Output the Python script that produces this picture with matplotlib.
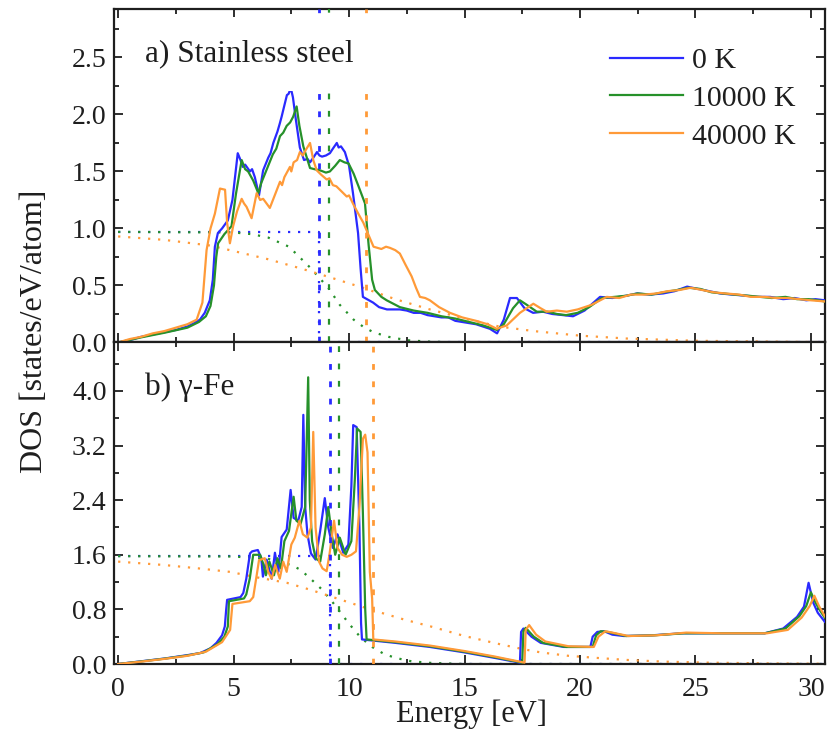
import matplotlib
matplotlib.use('Agg')
import matplotlib.pyplot as plt
import numpy as np
from matplotlib.ticker import MultipleLocator, FormatStrFormatter

plt.rcParams['font.family'] = ['Liberation Serif', 'DejaVu Serif']

BLUE = '#2a2aff'
GREEN = '#26912a'
ORANGE = '#ff9a38'
TEXT = '#1e1e1e'

LABELS = ['0 K', '10000 K', '40000 K']

# ---------------------------------------------------------------------
# a) stainless steel, DOS (E [eV], states/eV/atom)
SS_0K = [(0.0, 0.0), (0.5, 0.02), (1.0, 0.05), (1.5, 0.07), (2.0, 0.09), (2.5, 0.11), (3.0, 0.14),
         (3.3, 0.17), (3.54, 0.20), (3.75, 0.26), (3.97, 0.37), (4.1, 0.55), (4.19, 0.84), (4.32, 0.96),
         (4.5, 1.0), (4.75, 1.07), (4.95, 1.25), (5.18, 1.66), (5.3, 1.6), (5.4, 1.54), (5.5, 1.56),
         (5.71, 1.50), (5.8, 1.52), (5.92, 1.45), (6.1, 1.29), (6.28, 1.51), (6.5, 1.62), (6.6, 1.66),
         (6.72, 1.75), (6.9, 1.85), (7.0, 1.92), (7.08, 1.98), (7.2, 2.08), (7.31, 2.17), (7.38, 2.18),
         (7.48, 2.23), (7.57, 2.15), (7.7, 1.95), (7.87, 1.71), (8.05, 1.60), (8.2, 1.61), (8.31, 1.58),
         (8.45, 1.62), (8.61, 1.67), (8.72, 1.64), (8.83, 1.63), (9.0, 1.64), (9.17, 1.66), (9.3, 1.70),
         (9.47, 1.75), (9.55, 1.71), (9.65, 1.72), (9.82, 1.67), (10.0, 1.55), (10.17, 1.31), (10.39, 0.96),
         (10.5, 0.65), (10.6, 0.40), (11.04, 0.35), (11.3, 0.31), (11.64, 0.29), (12.2, 0.29), (12.5, 0.28),
         (12.8, 0.26), (13.1, 0.26), (13.4, 0.24), (14.0, 0.22), (14.3, 0.22), (14.6, 0.19), (15.2, 0.17),
         (15.5, 0.16), (15.8, 0.14), (16.1, 0.12), (16.41, 0.08), (16.7, 0.20), (16.97, 0.39), (17.27, 0.39),
         (17.6, 0.30), (17.97, 0.26), (18.4, 0.27), (18.8, 0.25), (19.27, 0.24), (19.7, 0.23), (20.2, 0.28),
         (20.87, 0.40), (21.4, 0.39), (22.0, 0.41), (22.47, 0.43), (23.0, 0.42), (23.6, 0.43), (24.1, 0.45),
         (24.64, 0.49), (25.1, 0.47), (25.6, 0.45), (26.07, 0.43), (26.6, 0.42), (27.2, 0.41), (27.7, 0.40),
         (28.24, 0.40), (28.8, 0.38), (29.3, 0.39), (29.8, 0.37), (30.2, 0.38), (30.6, 0.37)]

SS_10kK = [(0.0, 0.0), (1.0, 0.045), (2.0, 0.085), (3.0, 0.13), (3.5, 0.18), (3.8, 0.23), (4.0, 0.32),
           (4.15, 0.5), (4.25, 0.75), (4.33, 0.87), (4.6, 0.95), (4.91, 1.02), (5.1, 1.3), (5.35, 1.6),
           (5.5, 1.52), (5.63, 1.50), (5.85, 1.42), (6.07, 1.31), (6.2, 1.4), (6.36, 1.48), (6.5, 1.55),
           (6.7, 1.65), (6.85, 1.70), (7.01, 1.81), (7.15, 1.84), (7.3, 1.90), (7.45, 1.93), (7.58, 1.98),
           (7.73, 2.07), (7.85, 1.90), (8.02, 1.72), (8.31, 1.53), (8.5, 1.52), (8.74, 1.51), (9.0, 1.49),
           (9.17, 1.50), (9.4, 1.55), (9.6, 1.60), (9.8, 1.58), (9.98, 1.57), (10.2, 1.48), (10.41, 1.37),
           (10.69, 1.22), (10.85, 0.85), (11.0, 0.55), (11.12, 0.46), (11.4, 0.40), (11.63, 0.37), (12.2, 0.31),
           (12.8, 0.28), (13.4, 0.26), (14.0, 0.23), (14.6, 0.21), (15.2, 0.18), (15.8, 0.15), (16.4, 0.11),
           (16.7, 0.16), (17.1, 0.30), (17.4, 0.37), (17.7, 0.33), (18.13, 0.27), (18.6, 0.27), (19.0, 0.25),
           (19.4, 0.24), (19.9, 0.26), (20.4, 0.31), (20.95, 0.39), (21.5, 0.40), (22.0, 0.41), (22.5, 0.43),
           (23.1, 0.42), (23.6, 0.44), (24.2, 0.46), (24.7, 0.48), (25.2, 0.47), (25.7, 0.44), (26.2, 0.43),
           (26.7, 0.42), (27.3, 0.41), (27.8, 0.40), (28.3, 0.39), (28.9, 0.40), (29.4, 0.38), (29.9, 0.38),
           (30.3, 0.37), (30.6, 0.36)]

SS_40kK = [(0.0, 0.0), (0.5, 0.03), (1.0, 0.05), (1.5, 0.08), (2.0, 0.10), (2.5, 0.13), (3.0, 0.16),
           (3.4, 0.20), (3.65, 0.35), (3.83, 0.81), (4.0, 1.0), (4.19, 1.13), (4.41, 1.35), (4.63, 1.34),
           (4.72, 1.05), (4.84, 0.87), (4.98, 1.02), (5.15, 1.15), (5.35, 1.26), (5.45, 1.22), (5.56, 1.19),
           (5.78, 1.09), (6.0, 1.31), (6.15, 1.25), (6.28, 1.26), (6.57, 1.18), (6.8, 1.30), (7.01, 1.41),
           (7.1, 1.38), (7.2, 1.45), (7.44, 1.54), (7.5, 1.50), (7.6, 1.58), (7.75, 1.60), (7.87, 1.67),
           (8.0, 1.64), (8.1, 1.68), (8.31, 1.75), (8.45, 1.60), (8.6, 1.51), (8.8, 1.47), (9.03, 1.43),
           (9.15, 1.44), (9.3, 1.38), (9.45, 1.37), (9.6, 1.34), (9.9, 1.28), (10.0, 1.29), (10.19, 1.21),
           (10.4, 1.13), (10.62, 1.05), (10.85, 0.94), (11.06, 0.84), (11.4, 0.82), (11.6, 0.84), (11.77, 0.83),
           (12.0, 0.81), (12.2, 0.78), (12.45, 0.68), (12.71, 0.58), (12.9, 0.48), (13.07, 0.40), (13.3, 0.39),
           (13.5, 0.37), (13.9, 0.31), (14.37, 0.26), (14.9, 0.22), (15.5, 0.19), (16.0, 0.16), (16.4, 0.12),
           (16.83, 0.15), (17.4, 0.26), (17.98, 0.34), (18.3, 0.30), (18.56, 0.27), (19.0, 0.28), (19.43, 0.27),
           (19.9, 0.29), (20.5, 0.33), (21.16, 0.40), (21.7, 0.39), (22.2, 0.42), (22.8, 0.42), (23.3, 0.43),
           (23.8, 0.45), (24.3, 0.46), (24.8, 0.48), (25.3, 0.46), (25.8, 0.44), (26.3, 0.43), (26.9, 0.42),
           (27.4, 0.40), (28.0, 0.40), (28.5, 0.39), (29.0, 0.39), (29.5, 0.38), (30.0, 0.37), (30.6, 0.36)]

# occupation (dotted) and chemical potential (dashed) for a)
SS_OCC_0K = [(0.0, 0.97), (8.72, 0.97), (8.72, 0.0), (30.6, 0.0)]
SS_OCC_10kK = [(0.0, 0.97), (5.0, 0.965), (5.8, 0.95), (6.5, 0.92), (7.4, 0.84), (8.0, 0.72), (8.3, 0.66),
               (8.7, 0.57), (9.1, 0.48), (9.6, 0.33), (10.2, 0.20), (10.6, 0.14), (11.05, 0.09), (11.7, 0.05),
               (12.5, 0.02), (13.5, 0.007), (15.0, 0.0), (30.6, 0.0)]
SS_OCC_40kK = [(0.0, 0.93), (2.0, 0.90), (4.0, 0.85), (5.25, 0.79), (6.5, 0.73), (7.9, 0.65), (9.2, 0.57),
               (10.6, 0.48), (12.0, 0.38), (13.5, 0.29), (15.0, 0.21), (16.5, 0.14), (18.0, 0.10), (20.0, 0.06),
               (22.0, 0.035), (25.0, 0.015), (30.6, 0.003)]
SS_MU = [8.72, 9.15, 10.73]

# ---------------------------------------------------------------------
# b) gamma-Fe
FE_0K = [(0.0, 0.0), (1.0, 0.04), (2.0, 0.08), (3.0, 0.13), (3.55, 0.16), (4.0, 0.23), (4.26, 0.31),
         (4.5, 0.42), (4.62, 0.55), (4.68, 0.80), (4.72, 0.94), (5.3, 0.98), (5.42, 1.04), (5.55, 1.25),
         (5.71, 1.62), (5.8, 1.65), (6.05, 1.67), (6.2, 1.55), (6.27, 1.28), (6.43, 1.53), (6.65, 1.25),
         (6.79, 1.63), (6.94, 1.35), (7.08, 1.86), (7.3, 1.97), (7.47, 2.55), (7.6, 2.14), (7.8, 2.10),
         (7.95, 2.30), (8.02, 3.65), (8.1, 2.30), (8.2, 1.90), (8.35, 1.62), (8.55, 1.53), (8.75, 1.95),
         (8.95, 2.43), (9.1, 2.0), (9.3, 1.70), (9.5, 1.90), (9.75, 1.63), (9.97, 1.75), (10.1, 2.6),
         (10.18, 3.50), (10.33, 3.47), (10.45, 2.0), (10.52, 0.6), (10.56, 0.36), (12.0, 0.31), (13.5, 0.25),
         (15.0, 0.17), (16.3, 0.09), (17.4, 0.02), (17.45, 0.47), (17.55, 0.52), (17.9, 0.40), (18.3, 0.31),
         (19.3, 0.25), (20.45, 0.25), (20.55, 0.40), (20.75, 0.47), (21.05, 0.48), (21.4, 0.43), (21.9, 0.41),
         (23.1, 0.42), (24.4, 0.45), (25.8, 0.45), (27.0, 0.45), (28.0, 0.45), (28.8, 0.52), (29.4, 0.69),
         (29.7, 0.84), (29.9, 1.19), (30.1, 0.90), (30.3, 0.75), (30.6, 0.62)]

FE_10kK = [(0.0, 0.0), (1.0, 0.038), (2.0, 0.078), (3.0, 0.125), (3.7, 0.17), (4.3, 0.29), (4.6, 0.40),
           (4.75, 0.55), (4.8, 0.92), (5.45, 0.96), (5.55, 1.02), (5.7, 1.25), (5.85, 1.60), (6.15, 1.60),
           (6.3, 1.45), (6.4, 1.30), (6.55, 1.50), (6.75, 1.30), (6.9, 1.55), (7.05, 1.40), (7.2, 1.80),
           (7.4, 1.95), (7.6, 2.45), (7.72, 2.10), (7.9, 2.05), (8.1, 2.30), (8.23, 4.20), (8.3, 2.40),
           (8.4, 1.80), (8.55, 1.55), (8.75, 1.50), (8.95, 1.90), (9.1, 2.30), (9.25, 1.90), (9.4, 1.60),
           (9.6, 1.85), (9.85, 1.60), (10.1, 1.80), (10.25, 2.70), (10.35, 3.45), (10.5, 3.40), (10.6, 2.20),
           (10.7, 0.80), (10.76, 0.36), (12.0, 0.32), (13.5, 0.26), (15.0, 0.18), (16.3, 0.10), (17.5, 0.02),
           (17.55, 0.48), (17.65, 0.53), (18.0, 0.40), (18.4, 0.31), (19.4, 0.25), (20.55, 0.25), (20.7, 0.42),
           (20.9, 0.48), (21.2, 0.47), (22.0, 0.41), (23.2, 0.42), (24.5, 0.45), (26.0, 0.45), (28.0, 0.45),
           (28.9, 0.52), (29.5, 0.70), (29.8, 0.85), (30.0, 1.05), (30.2, 0.90), (30.4, 0.78), (30.6, 0.68)]

FE_40kK = [(0.0, 0.0), (1.0, 0.035), (2.0, 0.075), (3.0, 0.12), (3.8, 0.18), (4.5, 0.32), (4.85, 0.50),
           (4.95, 0.88), (5.7, 0.92), (5.85, 0.98), (6.0, 1.30), (6.1, 1.52), (6.35, 1.55), (6.5, 1.35),
           (6.65, 1.25), (6.8, 1.45), (7.0, 1.25), (7.15, 1.50), (7.3, 1.35), (7.5, 1.75), (7.65, 1.85),
           (7.85, 2.10), (8.0, 1.90), (8.2, 1.85), (8.35, 2.0), (8.45, 3.40), (8.55, 2.0), (8.7, 1.50),
           (8.85, 1.40), (9.03, 1.36), (9.15, 1.60), (9.35, 2.10), (9.5, 1.70), (9.7, 1.60), (9.9, 1.57),
           (10.1, 1.60), (10.3, 1.65), (10.45, 2.30), (10.6, 3.30), (10.7, 3.36), (10.8, 3.10), (10.9, 1.35),
           (11.0, 0.96), (11.05, 0.36), (12.0, 0.33), (13.5, 0.27), (15.0, 0.19), (16.3, 0.11), (17.6, 0.02),
           (17.65, 0.50), (17.8, 0.57), (18.1, 0.43), (18.5, 0.33), (19.5, 0.26), (20.6, 0.25), (20.8, 0.40),
           (21.1, 0.48), (21.4, 0.46), (22.1, 0.41), (23.3, 0.42), (24.6, 0.46), (26.1, 0.45), (28.1, 0.45),
           (29.0, 0.50), (29.6, 0.68), (29.95, 0.85), (30.15, 1.00), (30.35, 0.85), (30.6, 0.70)]

FE_OCC_0K = [(0.0, 1.58), (9.17, 1.58), (9.17, 0.0), (30.6, 0.0)]
FE_OCC_10kK = [(0.0, 1.58), (5.0, 1.575), (6.5, 1.54), (7.5, 1.45), (7.9, 1.38), (8.3, 1.26), (8.8, 1.10),
               (9.3, 0.90), (9.55, 0.79), (10.0, 0.59), (10.5, 0.39), (11.0, 0.25), (11.5, 0.15), (12.0, 0.09),
               (12.7, 0.04), (13.5, 0.017), (15.0, 0.0), (30.6, 0.0)]
FE_OCC_40kK = [(0.0, 1.50), (2.0, 1.45), (3.5, 1.40), (4.84, 1.35), (6.0, 1.27), (7.3, 1.19), (8.3, 1.09),
               (9.3, 0.98), (10.2, 0.88), (11.2, 0.77), (12.4, 0.65), (13.65, 0.54), (15.0, 0.41), (16.4, 0.30),
               (17.5, 0.22), (18.3, 0.17), (19.5, 0.12), (20.7, 0.09), (22.0, 0.06), (23.6, 0.035),
               (25.5, 0.02), (28.0, 0.01), (30.6, 0.004)]
FE_MU = [9.17, 9.57, 11.05]

COLORS = [BLUE, GREEN, ORANGE]


def style_axis(ax, ylim, ymajor, yminor):
    ax.set_xlim(-0.2, 30.6)
    ax.set_ylim(*ylim)
    ax.xaxis.set_major_locator(MultipleLocator(5))
    ax.xaxis.set_minor_locator(MultipleLocator(2.5))
    ax.yaxis.set_major_locator(MultipleLocator(ymajor))
    ax.yaxis.set_minor_locator(MultipleLocator(yminor))
    ax.yaxis.set_major_formatter(FormatStrFormatter('%.1f'))
    ax.xaxis.set_major_formatter(FormatStrFormatter('%d'))
    ax.tick_params(which='both', direction='in', top=True, right=True, width=1.3, colors=TEXT)
    ax.tick_params(which='major', length=6.5, labelsize=20, pad=5)
    ax.tick_params(axis='x', which='major', pad=9)
    ax.tick_params(which='minor', length=3.5)
    for s in ax.spines.values():
        s.set_linewidth(1.6)
        s.set_color(TEXT)


def draw_panel(ax, curves, occ, mus):
    lines = []
    for data, c, lab in zip(curves, COLORS, LABELS):
        e, d = np.array(data).T
        ln, = ax.plot(e, d, color=c, lw=1.6, label=lab, zorder=3)
        lines.append(ln)
    for data, c in zip(occ, COLORS):
        e, d = np.array(data).T
        ax.plot(e, d, color=c, lw=1.6, ls=(0, (1, 3.5)), zorder=2)
    for mu, c, w in zip(mus, COLORS, [2.0, 1.6, 2.0]):
        ax.axvline(mu, color=c, lw=w, ls=(0, (2.6 * 1.6 / w, 5.2 * 1.6 / w)), zorder=4)
    return lines


fig = plt.figure(figsize=(8.34, 7.41), dpi=100)
ax_a = fig.add_axes([0.1361, 0.5378, 0.8528, 0.4501])
ax_b = fig.add_axes([0.1361, 0.1039, 0.8528, 0.4339])

handles = draw_panel(ax_a, [SS_0K, SS_10kK, SS_40kK], [SS_OCC_0K, SS_OCC_10kK, SS_OCC_40kK], SS_MU)
draw_panel(ax_b, [FE_0K, FE_10kK, FE_40kK], [FE_OCC_0K, FE_OCC_10kK, FE_OCC_40kK], FE_MU)

style_axis(ax_a, (0, 2.925), 0.5, 0.25)
style_axis(ax_b, (0, 4.71), 0.8, 0.4)
ax_a.tick_params(labelbottom=False)

ax_a.text(0.044, 0.866, 'a) Stainless steel', transform=ax_a.transAxes, fontsize=22.5, color=TEXT,
          va='center', ha='left', zorder=10,
          bbox=dict(boxstyle='square,pad=0.72', fc='white', ec='none'))
ax_b.text(0.044, 0.86, 'b) \u03b3-Fe', transform=ax_b.transAxes, fontsize=22.5, color=TEXT,
          va='center', ha='left', zorder=10)

leg = ax_a.legend(handles=handles, loc='upper left', bbox_to_anchor=(0.698, 0.885), frameon=False,
                  fontsize=21.5, handlelength=2.45, handletextpad=0.3, labelspacing=0.36,
                  borderpad=0, borderaxespad=0)
for t in leg.get_texts():
    t.set_color(TEXT)

fig.text(35 / 834, 1 - 331 / 741, 'DOS [states/eV/atom]', rotation=90, fontsize=23, color=TEXT,
         ha='center', va='center')
fig.text(471 / 834, 1 - 714 / 741, 'Energy [eV]', fontsize=22, color=TEXT, ha='center', va='center')

fig.savefig('out.png', dpi=100)
